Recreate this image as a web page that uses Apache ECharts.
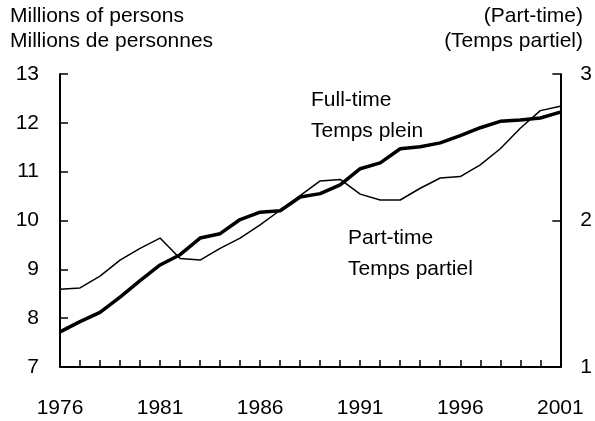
<!DOCTYPE html>
<html>
<head>
<meta charset="utf-8">
<script src="https://cdn.jsdelivr.net/npm/echarts@6/dist/echarts.min.js"></script>
<style>
	html, body { margin: 0; padding: 0; background: #fff; }
	#chart { width: 595px; height: 421px; }
</style>
</head>
<body>
<div id="chart"></div>
<script>
// years on the x axis
var years = [];
for (var y = 1976; y <= 2001; y++) {
	years.push(String(y));
}

// full-time employment, millions (left axis)
var fullTime = [7.72, 7.93, 8.12, 8.43, 8.77, 9.09, 9.30, 9.64, 9.73, 10.02,
	10.17, 10.20, 10.48, 10.55, 10.73, 11.06, 11.18, 11.47, 11.51, 11.59,
	11.74, 11.90, 12.03, 12.06, 12.10, 12.22];

// part-time employment, millions (right axis)
var partTime = [1.53, 1.54, 1.62, 1.73, 1.81, 1.88, 1.74, 1.73, 1.81, 1.88,
	1.97, 2.07, 2.17, 2.27, 2.28, 2.18, 2.14, 2.14, 2.22, 2.29,
	2.30, 2.38, 2.49, 2.63, 2.75, 2.78];

var font = '"Liberation Sans", Arial, sans-serif';
var fontSize = 21;

function label(text, x, y, align) {
	return {
		type: 'text',
		left: align === 'right' ? null : x,
		right: align === 'right' ? x : null,
		top: y,
		style: {
			text: text,
			font: fontSize + 'px ' + font,
			fill: '#000'
		}
	};
}

var chart = echarts.init(document.getElementById('chart'));

chart.setOption({
	animation: false,
	backgroundColor: '#fff',
	textStyle: { fontFamily: font },
	grid: { left: 60, right: 34, top: 74, bottom: 54 },
	graphic: [
		label('Millions of persons', 10, 6),
		label('Millions de personnes', 10, 31),
		label('(Part-time)', 12, 6, 'right'),
		label('(Temps partiel)', 12, 31, 'right'),
		label('Full-time', 311, 90),
		label('Temps plein', 311, 121),
		label('Part-time', 348, 228),
		label('Temps partiel', 348, 259)
	],
	xAxis: {
		type: 'category',
		data: years,
		boundaryGap: false,
		axisLine: { lineStyle: { color: '#000', width: 2 } },
		axisTick: { inside: true, length: 7, interval: 0, lineStyle: { color: '#000', width: 1.5 } },
		axisLabel: { interval: 4, margin: 31, color: '#000', fontSize: fontSize, fontFamily: font }
	},
	yAxis: [
		{
			type: 'value',
			min: 7,
			max: 13,
			interval: 1,
			splitLine: { show: false },
			axisLine: { show: true, lineStyle: { color: '#000', width: 2 } },
			axisTick: { show: true, inside: true, length: 8, lineStyle: { color: '#000', width: 1.5 } },
			axisLabel: { margin: 21, color: '#000', fontSize: fontSize, fontFamily: font }
		},
		{
			type: 'value',
			position: 'right',
			min: 1,
			max: 3,
			interval: 1,
			splitLine: { show: false },
			axisLine: { show: true, lineStyle: { color: '#000', width: 2 } },
			axisTick: { show: true, inside: true, length: 8, lineStyle: { color: '#000', width: 1.5 } },
			axisLabel: { margin: 20, color: '#000', fontSize: fontSize, fontFamily: font }
		}
	],
	series: [
		{
			name: 'Part-time',
			type: 'line',
			yAxisIndex: 1,
			data: partTime,
			showSymbol: false,
			lineStyle: { color: '#000', width: 1.5 }
		},
		{
			name: 'Full-time',
			type: 'line',
			yAxisIndex: 0,
			data: fullTime,
			showSymbol: false,
			lineStyle: { color: '#000', width: 3.5 }
		}
	]
});
</script>
</body>
</html>
